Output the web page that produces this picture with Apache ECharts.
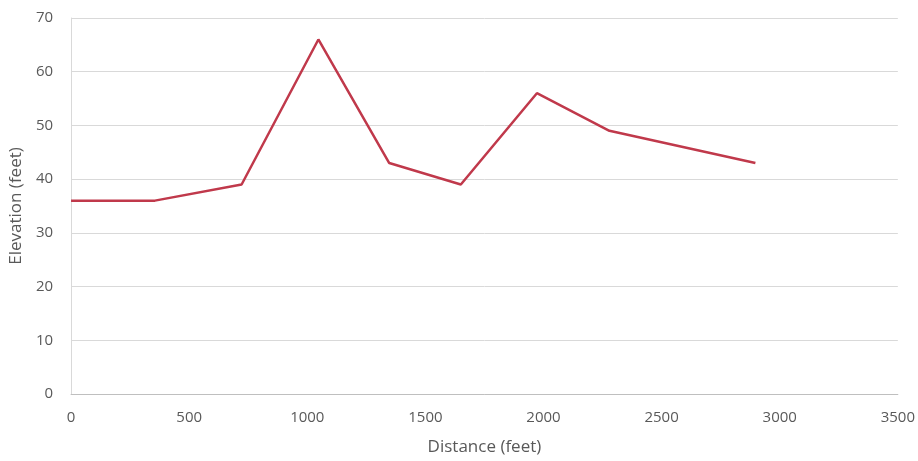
<!DOCTYPE html>
<html>
<head>
<meta charset="utf-8">
<script src="https://cdn.jsdelivr.net/npm/echarts@6/dist/echarts.min.js"></script>
<style>
  html, body { margin: 0; padding: 0; background: #fff; }
  #chart { width: 918px; height: 461px; }
</style>
</head>
<body>
<div id="chart"></div>
<script>
// Elevation profile along the route
const distanceFeet = [0, 355, 722, 1047, 1347, 1650, 1972, 2279, 2897];
const elevationFeet = [36, 36, 39, 66, 43, 39, 56, 49, 43];

const xAxisTitle = 'Distance (feet)';
const yAxisTitle = 'Elevation (feet)';

const points = distanceFeet.map((d, i) => [d, elevationFeet[i]]);

const textColor = '#595959';
const fontFamily = '"Open Sans", "Liberation Sans", sans-serif';

const chart = echarts.init(document.getElementById('chart'), null, { renderer: 'canvas' });
chart.setOption({
  animation: false,
  grid: { left: 71, right: 20, top: 18, bottom: 66 },
  xAxis: {
    type: 'value',
    min: 0,
    max: 3500,
    interval: 500,
    name: xAxisTitle,
    nameLocation: 'middle',
    nameGap: 45,
    nameTextStyle: { color: textColor, fontSize: 17, fontFamily },
    axisLine: { show: true, lineStyle: { color: '#BFBFBF', width: 1 } },
    axisTick: { show: false },
    axisLabel: { color: textColor, fontSize: 15, fontFamily, margin: 16, formatter: v => String(v) },
    splitLine: { show: false }
  },
  yAxis: {
    type: 'value',
    min: 0,
    max: 70,
    interval: 10,
    name: yAxisTitle,
    nameLocation: 'middle',
    nameGap: 39,
    nameTextStyle: { color: textColor, fontSize: 17, fontFamily },
    axisLine: { show: true, lineStyle: { color: '#D9D9D9', width: 1 } },
    axisTick: { show: false },
    axisLabel: { color: textColor, fontSize: 15, fontFamily, margin: 18 },
    splitLine: { show: true, lineStyle: { color: '#D9D9D9', width: 1 } }
  },
  series: [{
    type: 'line',
    data: points,
    symbol: 'none',
    lineStyle: { color: '#C0394B', width: 2.5 },
    itemStyle: { color: '#C0394B' }
  }]
});
</script>
</body>
</html>
